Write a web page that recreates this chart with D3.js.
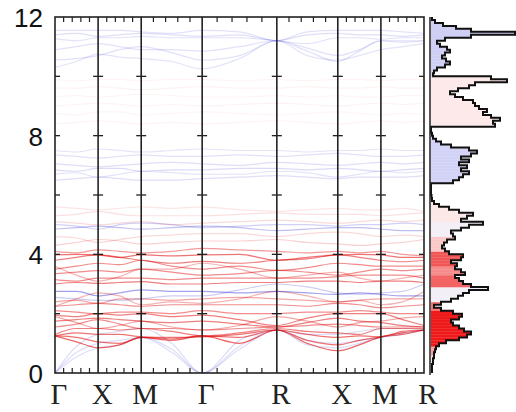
<!DOCTYPE html>
<html>
<head>
<meta charset="utf-8">
<script src="https://cdn.jsdelivr.net/npm/d3@7"></script>
<style>
  body { margin: 0; background: #fff; }
  .y-axis text { font-family: "Liberation Sans", Arial, sans-serif; font-size: 26px; fill: #111; }
  .klabel { font-family: "Liberation Serif", "Times New Roman", serif; font-size: 29px; fill: #222; }
</style>
</head>
<body>
<svg id="chart"></svg>
<script>
// high-symmetry path
const symLabels = ['Γ', 'X', 'M', 'Γ', 'R', 'X', 'M', 'R'];
const segLengths = [0.5, 0.5, 0.7071, 0.8660, 0.7071, 0.5, 0.5];
const energyTicks = [0, 4, 8, 12];

// band energies (THz) read at: Γ, mid, X, mid, M, mid, Γ, mid, R, mid, X, mid, M, mid, R
const bandEnergies = [
  // acoustic
  [0, 0.7, 1.0, 1.1, 1.2, 0.8, 0, 0.9, 1.45, 1.1, 1.0, 1.1, 1.2, 1.35, 1.45],
  [0, 0.55, 0.85, 0.95, 1.2, 0.7, 0, 0.8, 1.45, 0.95, 0.85, 1.0, 1.2, 1.3, 1.45],
  [0, 0.9, 1.3, 1.4, 1.5, 1.0, 0, 1.1, 1.45, 1.3, 1.3, 1.4, 1.5, 1.5, 1.45],
  // low red group
  [1.25, 1.05, 0.85, 0.95, 1.2, 1.1, 1.25, 1.0, 1.45, 1.0, 0.75, 0.95, 1.22, 1.35, 1.45],
  [1.25, 1.2, 1.05, 1.0, 1.2, 1.15, 1.25, 1.2, 1.45, 1.1, 0.95, 1.1, 1.22, 1.3, 1.45],
  [1.25, 1.35, 1.3, 1.3, 1.22, 1.2, 1.22, 1.3, 1.45, 1.3, 1.2, 1.25, 1.22, 1.4, 1.45],
  [1.3, 1.5, 1.5, 1.45, 1.5, 1.4, 1.25, 1.35, 1.5, 1.4, 1.35, 1.3, 1.5, 1.5, 1.5],
  [1.55, 1.65, 1.8, 1.65, 1.5, 1.5, 1.45, 1.5, 1.55, 1.6, 1.65, 1.6, 1.55, 1.55, 1.55],
  [1.75, 1.8, 1.85, 1.8, 1.75, 1.7, 1.75, 1.65, 1.55, 1.7, 1.85, 1.75, 1.7, 1.6, 1.55],
  [1.95, 1.9, 2.0, 1.95, 2.0, 1.9, 1.95, 1.8, 1.6, 1.85, 2.0, 2.0, 2.0, 1.8, 1.6],
  [2.1, 2.05, 2.0, 2.05, 2.05, 2.0, 2.1, 2.0, 2.0, 2.05, 2.05, 2.1, 2.05, 2.0, 2.0],
  [1.9, 1.7, 1.5, 1.6, 1.75, 1.55, 1.45, 1.6, 1.9, 1.75, 1.55, 1.7, 1.75, 1.85, 1.9],
  // middle red group
  [2.25, 2.3, 2.35, 2.3, 2.25, 2.3, 2.3, 2.3, 2.3, 2.25, 2.35, 2.3, 2.2, 2.25, 2.3],
  [2.4, 2.45, 2.35, 2.5, 2.5, 2.45, 2.5, 2.55, 2.5, 2.45, 2.4, 2.45, 2.5, 2.5, 2.5],
  [2.25, 2.5, 2.7, 2.6, 2.3, 2.4, 2.35, 2.5, 2.75, 2.6, 2.4, 2.45, 2.3, 2.4, 2.75],
  [3.0, 3.05, 3.02, 3.05, 3.08, 3.0, 3.0, 3.05, 3.05, 3.1, 3.1, 3.05, 3.1, 3.1, 3.05],
  [3.15, 3.1, 3.2, 3.2, 3.2, 3.15, 3.2, 3.2, 3.2, 3.2, 3.25, 3.3, 3.3, 3.3, 3.2],
  [3.6, 3.3, 3.1, 3.25, 3.5, 3.5, 3.7, 3.5, 3.2, 3.3, 3.4, 3.2, 3.1, 3.2, 3.3],
  [3.35, 3.4, 3.45, 3.4, 3.5, 3.4, 3.3, 3.35, 3.46, 3.4, 3.3, 3.4, 3.5, 3.45, 3.5],
  [3.5, 3.6, 3.7, 3.65, 3.8, 3.6, 3.5, 3.6, 3.46, 3.55, 3.7, 3.65, 3.6, 3.6, 3.6],
  [3.8, 3.9, 3.98, 3.9, 3.8, 3.7, 3.76, 3.7, 3.8, 3.85, 3.98, 3.9, 3.8, 3.75, 3.8],
  [3.98, 4.0, 3.98, 3.9, 3.98, 3.95, 3.98, 4.0, 3.8, 3.9, 3.98, 4.0, 3.98, 3.9, 3.9],
  [4.1, 4.05, 4.15, 4.1, 4.05, 4.1, 4.2, 4.15, 4.1, 4.05, 4.1, 4.05, 4.1, 4.0, 3.95],
  // blue within the red group
  [2.75, 2.75, 2.6, 2.7, 2.8, 2.75, 2.75, 2.7, 2.75, 2.7, 2.65, 2.7, 2.65, 2.6, 2.6],
  [2.55, 2.5, 2.45, 2.45, 2.5, 2.6, 2.6, 2.8, 3.0, 2.9, 2.7, 2.65, 2.7, 2.75, 3.0],
  // pale red 4.2 - 5.6
  [4.3, 4.4, 4.5, 4.45, 4.35, 4.4, 4.45, 4.45, 4.5, 4.4, 4.35, 4.3, 4.35, 4.4, 4.5],
  [4.6, 4.55, 4.4, 4.5, 4.6, 4.65, 4.7, 4.7, 4.6, 4.7, 4.75, 4.7, 4.6, 4.65, 4.6],
  [5.1, 5.05, 5.0, 5.05, 5.1, 5.0, 5.05, 5.1, 5.15, 5.1, 5.05, 5.1, 5.15, 5.1, 5.15],
  [5.3, 5.35, 5.45, 5.35, 5.3, 5.3, 5.3, 5.35, 5.4, 5.35, 5.35, 5.35, 5.3, 5.35, 5.4],
  [5.6, 5.55, 5.5, 5.55, 5.6, 5.55, 5.6, 5.5, 5.45, 5.5, 5.55, 5.5, 5.5, 5.55, 5.45],
  [4.85, 4.9, 4.95, 4.9, 4.85, 4.9, 4.95, 4.9, 4.8, 4.85, 4.9, 4.9, 4.85, 4.8, 4.8],
  [5.0, 4.95, 4.85, 5.0, 5.05, 5.0, 4.9, 4.95, 5.0, 5.0, 4.95, 5.0, 5.0, 5.05, 5.0],
  // blue 6.4 - 7.6
  [6.5, 6.55, 6.6, 6.55, 6.5, 6.5, 6.55, 6.6, 6.65, 6.6, 6.55, 6.6, 6.6, 6.6, 6.65],
  [6.7, 6.75, 6.6, 6.7, 6.8, 6.75, 6.7, 6.7, 6.8, 6.75, 6.6, 6.7, 6.8, 6.75, 6.8],
  [6.85, 6.8, 6.9, 6.9, 6.8, 6.85, 6.85, 6.9, 6.9, 6.85, 6.9, 6.85, 6.8, 6.85, 6.9],
  [7.05, 7.0, 6.95, 7.0, 7.05, 7.1, 7.05, 7.0, 7.1, 7.05, 7.0, 7.05, 7.1, 7.05, 7.1],
  [7.35, 7.3, 7.25, 7.3, 7.35, 7.3, 7.3, 7.35, 7.3, 7.35, 7.4, 7.35, 7.3, 7.3, 7.35],
  [7.5, 7.45, 7.55, 7.5, 7.45, 7.5, 7.55, 7.5, 7.5, 7.45, 7.5, 7.5, 7.55, 7.5, 7.5],
  // pale red 8.3 - 10
  [8.4, 8.45, 8.5, 8.45, 8.4, 8.45, 8.4, 8.45, 8.5, 8.45, 8.4, 8.45, 8.5, 8.45, 8.5],
  [8.75, 8.7, 8.8, 8.8, 8.7, 8.75, 8.8, 8.75, 8.7, 8.75, 8.8, 8.75, 8.7, 8.75, 8.7],
  [9.0, 9.05, 9.1, 9.05, 9.0, 9.05, 9.0, 9.05, 9.1, 9.05, 9.0, 9.05, 9.1, 9.05, 9.1],
  [9.3, 9.35, 9.3, 9.35, 9.4, 9.35, 9.3, 9.3, 9.35, 9.3, 9.35, 9.3, 9.3, 9.35, 9.35],
  [9.6, 9.6, 9.65, 9.6, 9.55, 9.6, 9.65, 9.6, 9.6, 9.65, 9.6, 9.6, 9.65, 9.6, 9.6],
  [9.9, 9.85, 9.9, 9.9, 9.85, 9.9, 9.9, 9.85, 9.9, 9.85, 9.9, 9.9, 9.85, 9.9, 9.9],
  // blue 10.2 - 11.6
  [11.55, 11.55, 11.55, 11.55, 11.5, 11.45, 11.55, 11.5, 11.2, 11.5, 11.55, 11.55, 11.55, 11.5, 11.45],
  [11.4, 11.45, 11.35, 11.4, 11.45, 11.4, 11.35, 11.4, 11.2, 11.4, 11.45, 11.4, 11.4, 11.35, 11.4],
  [11.27, 11.2, 11.3, 11.3, 11.35, 11.3, 11.3, 11.3, 11.2, 11.1, 11.3, 11.3, 11.25, 11.3, 11.3],
  [10.9, 11.0, 11.1, 11.0, 10.9, 10.9, 10.85, 11.0, 11.2, 10.95, 10.7, 10.9, 11.2, 11.2, 11.2],
  [10.55, 10.6, 10.7, 10.9, 11.0, 10.8, 10.55, 10.7, 11.2, 10.85, 10.5, 10.85, 11.2, 11.15, 11.2],
  [10.3, 10.5, 10.75, 10.65, 10.6, 10.5, 10.25, 10.6, 11.2, 10.7, 10.55, 10.7, 10.9, 11.0, 11.1]
];
// character of each band: 'r' (red) or 'b' (blue) and its weight
const bandKind = ['b','b','b', 'r','r','r','r','r','r','r','r','r', 'r','r','r','r','r','r','r','r','r','r','r', 'b','b',
  'r','r','r','r','r','b','b', 'b','b','b','b','b','b', 'r','r','r','r','r','r', 'b','b','b','b','b','b'];
const bandWeight = [0.15,0.15,0.15, 0.6,0.55,0.55,0.5,0.45,0.5,0.5,0.45,0.35, 0.45,0.35,0.3,0.5,0.45,0.3,0.45,0.45,0.5,0.55,0.4, 0.4,0.22,
  0.18,0.15,0.15,0.12,0.1,0.28,0.2, 0.14,0.13,0.16,0.14,0.13,0.12, 0.05,0.045,0.05,0.045,0.05,0.045, 0.13,0.14,0.13,0.13,0.13,0.12];

// phonon DOS, 0.1 THz bins from 0 to 12
const dosValues = [
  1, 1, 1, 2, 2, 3, 3, 4, 5, 8,
  15, 28, 36, 40, 33, 28, 22, 20, 28, 31,
  22, 10, 3, 10, 20, 27, 32, 38, 57, 40,
  32, 28, 24, 34, 30, 24, 26, 20, 30, 32,
  18, 14, 11, 13, 16, 24, 22, 20, 30, 38,
  52, 30, 36, 42, 28, 18, 8, 3, 1, 0.5,
  0, 0, 0, 0, 22, 28, 32, 38, 30, 36,
  28, 38, 30, 40, 46, 38, 20, 10, 5, 2,
  1, 0, 0, 64, 62, 69, 60, 52, 56, 48,
  44, 42, 32, 24, 19, 27, 38, 44, 76, 60,
  2, 3, 6, 14, 19, 15, 11, 14, 19, 16,
  9, 6, 14, 40, 84, 40, 25, 12, 4, 1
];
// fill colour of the DOS by energy range
const dosColorLo = [0, 0.6, 0.95, 2.15, 2.45, 2.95, 3.3, 3.6, 4.15, 4.6, 5.1, 6.0, 8.2, 10.05];
const dosColorHi = [0.6, 0.95, 2.15, 2.45, 2.95, 3.3, 3.6, 4.15, 4.6, 5.1, 6.0, 8.2, 10.05, 12];
const dosColor = ['#fde0e0', '#f8a0a0', '#ee1a1a', '#f57474', '#f3eff6', '#f26464', '#f58c8c', '#f05656',
  '#fbc8c8', '#f4eef6', '#fde8e8', '#d2d2f6', '#fde9e9', '#cfcff4'];

class PhononChart {

  constructor(_config) {
    this.config = {
      parentElement: _config.parentElement,
      containerWidth: _config.containerWidth || 516,
      containerHeight: _config.containerHeight || 412,
      band: {left: 55, right: 424, top: 17, bottom: 373},
      dos: {left: 431, right: 516}
    };
    this.initVis();
  }

  initVis() {
    let vis = this;
    const b = vis.config.band;

    vis.svg = d3.select(vis.config.parentElement)
        .attr('width', vis.config.containerWidth)
        .attr('height', vis.config.containerHeight);

    // k positions of the high-symmetry points
    vis.symPos = [0];
    segLengths.forEach((l, i) => vis.symPos.push(vis.symPos[i] + l));
    // sampling grid: each symmetry point plus the middle of each segment
    vis.kNodes = [];
    vis.symPos.forEach((k, i) => {
      vis.kNodes.push(k);
      if (i < segLengths.length) vis.kNodes.push(k + segLengths[i] / 2);
    });

    vis.xScale = d3.scaleLinear()
        .domain([0, vis.symPos[vis.symPos.length - 1]])
        .range([b.left, b.right]);

    vis.yScale = d3.scaleLinear()
        .domain([0, 12])
        .range([b.bottom, b.top]);

    vis.dosScale = d3.scaleLinear()
        .domain([0, 85])
        .range([vis.config.dos.left, vis.config.dos.right]);

    vis.bandG = vis.svg.append('g').attr('class', 'bands');
    vis.dosG = vis.svg.append('g').attr('class', 'dos');
    vis.frameG = vis.svg.append('g').attr('class', 'frame');

    vis.renderVis();
  }

  renderVis() {
    let vis = this;
    const b = vis.config.band;

    // bands
    const line = d3.line()
        .x((d, i) => vis.xScale(vis.kNodes[i]))
        .y(d => vis.yScale(d))
        .curve(d3.curveMonotoneX);

    vis.bandG.selectAll('.band')
        .data(bandEnergies)
      .join('path')
        .attr('class', 'band')
        .attr('fill', 'none')
        .attr('stroke', (d, i) => bandKind[i] === 'r' ? '#e00000' : '#1a1ad0')
        .attr('stroke-opacity', (d, i) => bandWeight[i])
        .attr('stroke-width', 1.2)
        .attr('d', line);

    // frame and segment separators
    vis.frameG.append('rect')
        .attr('x', b.left)
        .attr('y', b.top)
        .attr('width', b.right - b.left)
        .attr('height', b.bottom - b.top)
        .attr('fill', 'none')
        .attr('stroke', '#222')
        .attr('stroke-width', 1.6);

    vis.frameG.selectAll('.sym-line')
        .data(vis.symPos.slice(1, -1))
      .join('line')
        .attr('class', 'sym-line')
        .attr('x1', d => vis.xScale(d))
        .attr('x2', d => vis.xScale(d))
        .attr('y1', b.top)
        .attr('y2', b.bottom)
        .attr('stroke', '#222')
        .attr('stroke-width', 1.6);

    // energy ticks on every vertical line
    const yMinor = d3.range(2, 12, 2);
    vis.symPos.forEach((k, i) => {
      const x0 = vis.xScale(k);
      const left = i === 0 ? 0 : 5;
      const right = i === vis.symPos.length - 1 ? 0 : 5;
      vis.frameG.selectAll(null)
          .data(yMinor)
        .join('line')
          .attr('x1', x0 - left)
          .attr('x2', x0 + right)
          .attr('y1', d => vis.yScale(d))
          .attr('y2', d => vis.yScale(d))
          .attr('stroke', '#222')
          .attr('stroke-width', 1.3);
    });

    // k ticks along top and bottom, 4 per segment
    const kTicks = [];
    segLengths.forEach((l, i) => {
      [0.2, 0.4, 0.6, 0.8].forEach(f => kTicks.push(vis.symPos[i] + f * l));
    });
    [[b.bottom, -5], [b.top, 5]].forEach(([yy, dy]) => {
      vis.frameG.selectAll(null)
          .data(kTicks)
        .join('line')
          .attr('x1', d => vis.xScale(d))
          .attr('x2', d => vis.xScale(d))
          .attr('y1', yy)
          .attr('y2', yy + dy)
          .attr('stroke', '#222')
          .attr('stroke-width', 1.2);
    });

    // y axis labels
    vis.yAxis = d3.axisLeft(vis.yScale)
        .tickValues(energyTicks)
        .tickSize(0)
        .tickPadding(12);
    vis.frameG.append('g')
        .attr('class', 'y-axis')
        .attr('transform', `translate(${b.left},0)`)
        .call(vis.yAxis)
        .call(g => g.select('.domain').remove())
        .selectAll('text').attr('dy', '0.36em');

    // k labels
    vis.frameG.selectAll('.klabel')
        .data(symLabels)
      .join('text')
        .attr('class', 'klabel')
        .attr('x', (d, i) => vis.xScale(vis.symPos[i]) + 4)
        .attr('y', 404)
        .attr('text-anchor', 'middle')
        .text(d => d);

    // DOS histogram
    const binW = 0.1;
    vis.dosG.selectAll('.dos-bin')
        .data(dosValues)
      .join('rect')
        .attr('class', 'dos-bin')
        .attr('x', vis.dosScale(0))
        .attr('y', (d, i) => vis.yScale((i + 1) * binW))
        .attr('width', d => vis.dosScale(d) - vis.dosScale(0))
        .attr('height', vis.yScale(0) - vis.yScale(binW) + 0.3)
        .attr('fill', (d, i) => {
          const e = (i + 0.5) * binW;
          const j = dosColorLo.findIndex((lo, k) => e >= lo && e < dosColorHi[k]);
          return dosColor[j];
        });

    const steps = [];
    dosValues.forEach((v, i) => {
      steps.push([v, i * binW]);
      steps.push([v, (i + 1) * binW]);
    });
    const dosLine = d3.line()
        .x(d => vis.dosScale(d[0]))
        .y(d => vis.yScale(d[1]));

    vis.dosG.append('path')
        .datum(steps)
        .attr('fill', 'none')
        .attr('stroke', '#111')
        .attr('stroke-width', 2)
        .attr('stroke-linejoin', 'miter')
        .attr('d', dosLine);

    vis.dosG.append('line')
        .attr('x1', vis.dosScale(0) - 1)
        .attr('x2', vis.dosScale(0) - 1)
        .attr('y1', b.top)
        .attr('y2', b.bottom + 2)
        .attr('stroke', '#222')
        .attr('stroke-width', 1.5);
  }
}

new PhononChart({parentElement: '#chart'});
</script>
</body>
</html>
